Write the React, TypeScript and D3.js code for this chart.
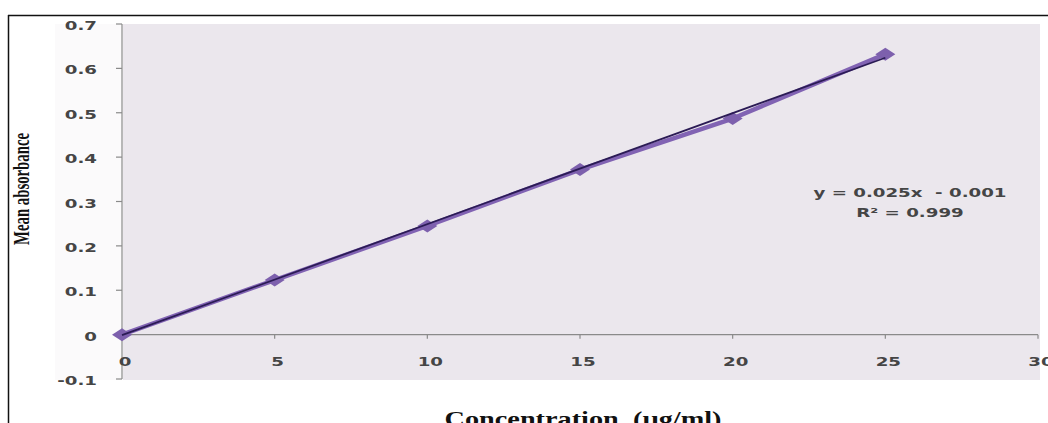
import React from "react";
import * as d3 from "d3";

const concentrations = [0, 5, 10, 15, 20, 25];
const absorbance = [0.0, 0.123, 0.245, 0.372, 0.487, 0.632];
const xTicks = [0, 5, 10, 15, 20, 25, 30];
const yTicks = [-0.1, 0, 0.1, 0.2, 0.3, 0.4, 0.5, 0.6, 0.7];
const slope = 0.025;
const intercept = -0.001;
const equationLines = ["y = 0.025x  - 0.001", "R² = 0.999"];
const xTitle = "Concentration  (µg/ml)";
const yTitle = "Mean absorbance";

export default function App() {
  const W = 1048, H = 423;
  const x = d3.scaleLinear().domain([0, 30]).range([122, 1038]);
  const y = d3.scaleLinear().domain([-0.1, 0.7]).range([379, 24]);
  const pts = concentrations.map((c, i) => [x(c), y(absorbance[i])] as [number, number]);
  const line = d3.line();
  const trend: [number, number][] = [
    [x(0), y(intercept)],
    [x(25), y(slope * 25 + intercept)],
  ];
  const diamond = (cx: number, cy: number) =>
    `M${cx - 10},${cy} L${cx},${cy - 6.5} L${cx + 10},${cy} L${cx},${cy + 6.5} Z`;
  const sans = "'DejaVu Sans', Verdana, sans-serif";
  const serif = "'Liberation Serif', 'Times New Roman', serif";
  const SX = 1.4;
  const label = (tx: number, ty: number, s: string, anchor: string, key?: string) => (
    <g key={key ?? s} transform={`translate(${tx},${ty}) scale(${SX},1)`}>
      <text x={0} y={0} textAnchor={anchor} fontFamily={sans} fontWeight="bold" fontSize={13} fill="#454545" style={{ whiteSpace: "pre" }}>
        {s}
      </text>
    </g>
  );
  return (
    <svg width={W} height={H} style={{ position: "absolute", left: 0, top: 0 }}>
      <rect x={0} y={0} width={W} height={H} fill="#fff" />
      <rect x={55} y={24} width={985} height={356} fill="#fbfafb" />
      <rect x={123} y={24} width={917} height={356} fill="#ebe7ed" />
      {/* outer border */}
      <line x1={8.5} y1={15} x2={8.5} y2={H} stroke="#111" strokeWidth={1.5} />
      <line x1={8} y1={15.5} x2={W} y2={15.5} stroke="#111" strokeWidth={1.5} />
      {/* y axis */}
      <line x1={x(0)} y1={y(0.7)} x2={x(0)} y2={y(-0.1)} stroke="#8a8a8a" strokeWidth={1.2} />
      {yTicks.map((t) => (
        <g key={t}>
          <line x1={x(0) - 6} x2={x(0)} y1={y(t)} y2={y(t)} stroke="#8a8a8a" strokeWidth={1.2} />
          {label(97, y(t) + 6, t === 0 ? "0" : t.toFixed(1), "end")}
        </g>
      ))}
      {/* x axis at y=0 */}
      <line x1={x(0)} y1={y(0)} x2={x(30)} y2={y(0)} stroke="#8a8a8a" strokeWidth={1.2} />
      {xTicks.map((t) => (
        <g key={t}>
          <line x1={x(t)} x2={x(t)} y1={y(0)} y2={y(0) + 4} stroke="#8a8a8a" strokeWidth={1.2} />
          {label(x(t) + 3, y(0) + 31, String(t), "middle")}
        </g>
      ))}
      {/* series line */}
      <path d={line(pts) || ""} fill="none" stroke="#8163b3" strokeWidth={4.5} strokeLinejoin="round" />
      {pts.map((p, i) => (
        <path key={i} d={diamond(p[0], p[1])} fill="#7d60ad" />
      ))}
      {/* trendline */}
      <path d={line(trend) || ""} fill="none" stroke="#2b1b55" strokeWidth={1.8} />
      {/* equation */}
      {equationLines.map((s, i) => label(910, 197 + i * 20, s, "middle", s))}
      {/* axis titles */}
      <text
        transform={`translate(29,189) rotate(-90)`}
        textAnchor="middle"
        fontFamily={serif}
        fontWeight="bold"
        fontSize={24}
        textLength={112}
        lengthAdjust="spacingAndGlyphs"
        fill="#111"
      >
        {yTitle}
      </text>
      <text x={583} y={426} textAnchor="middle" fontFamily={serif} fontWeight="bold" fontSize={21} fill="#111" textLength={277} lengthAdjust="spacingAndGlyphs" style={{ whiteSpace: "pre" }}>
        {xTitle}
      </text>
    </svg>
  );
}
